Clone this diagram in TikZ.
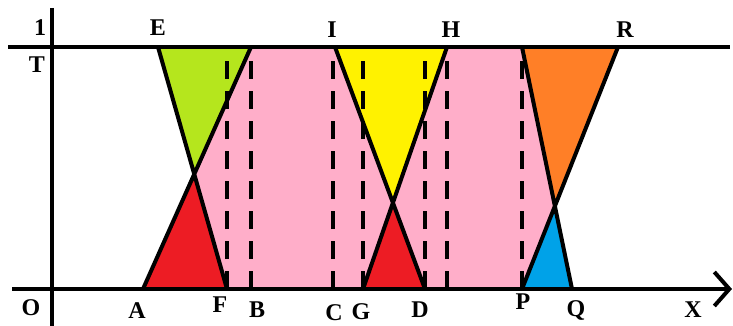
\documentclass[tikz,border=0pt]{standalone}
\usepackage{fontspec}
\setmainfont{Liberation Serif}
\usetikzlibrary{arrows.meta}
\definecolor{pinkfill}{HTML}{FFAEC9}
\definecolor{limefill}{HTML}{B5E61D}
\definecolor{redfill}{HTML}{ED1C24}
\definecolor{yellowfill}{HTML}{FFF200}
\definecolor{orangefill}{HTML}{FF7F27}
\definecolor{bluefill}{HTML}{00A2E8}
\begin{document}
\begin{tikzpicture}[x=0.5pt,y=-0.5pt,
    thickline/.style={line width=2pt},
    dashline/.style={line width=2pt,dash pattern=on 9pt off 6pt},
    lbl/.style={font=\fontsize{12}{14}\selectfont\bfseries,inner sep=0pt}]
    \useasboundingbox (0,0) rectangle (733,326);
    % points on the lines
    \coordinate (O) at (52,289);
    \coordinate (A) at (143,289);
    \coordinate (F) at (227,289);
    \coordinate (B) at (251,289);
    \coordinate (C) at (333,289);
    \coordinate (G) at (363,289);
    \coordinate (D) at (425,289);
    \coordinate (P) at (522,289);
    \coordinate (Q) at (572,289);
    \coordinate (E) at (158,47);
    \coordinate (Bt) at (251,47);
    \coordinate (I) at (335,47);
    \coordinate (H) at (447,47);
    \coordinate (Pt) at (522,47);
    \coordinate (R) at (618,47);
    \coordinate (X1) at (intersection of A--Bt and E--F);
    \coordinate (X2) at (intersection of I--D and G--H);
    \coordinate (X3) at (intersection of Pt--Q and P--R);
    % fills
    \fill[pinkfill] (Bt)--(X1)--(F)--(G)--(X2)--(I)--cycle;
    \fill[pinkfill] (H)--(Pt)--(X3)--(P)--(D)--(X2)--cycle;
    \fill[limefill] (E)--(Bt)--(X1)--cycle;
    \fill[redfill] (A)--(X1)--(F)--cycle;
    \fill[yellowfill] (I)--(H)--(X2)--cycle;
    \fill[redfill] (G)--(X2)--(D)--cycle;
    \fill[orangefill] (Pt)--(R)--(X3)--cycle;
    \fill[bluefill] (P)--(X3)--(Q)--cycle;
    % dashed verticals
    \foreach \p in {F,B,C,G,D,H,P}
        \draw[dashline] (\p |- O) -- (\p |- E);
    % axes
    \draw[thickline] (52,8) -- (52,326);
    \draw[thickline] (8,47) -- (730,47);
    \draw[thickline,-{Straight Barb[length=7.5pt,width=17pt]}] (12,289) -- (732,289);
    % slanted lines
    \draw[thickline] (A)--(Bt) (E)--(F);
    \draw[thickline] (I)--(D) (G)--(H);
    \draw[thickline] (Pt)--(Q) (P)--(R);
    % labels
    \node[lbl] (l1) at (40,28) {1};
    \node[lbl] (lT) at (37,65) {T};
    \node[lbl] (lO) at (31,308) {O};
    \node[lbl] (lE) at (158,28) {E};
    \node[lbl] (lI) at (332,30) {I};
    \node[lbl] (lH) at (451,30) {H};
    \node[lbl] (lR) at (625,30) {R};
    \node[lbl] (lA) at (137,311) {A};
    \node[lbl] (lF) at (220,305) {F};
    \node[lbl] (lB) at (257,310) {B};
    \node[lbl] (lC) at (334,313) {C};
    \node[lbl] (lG) at (361,312) {G};
    \node[lbl] (lD) at (420,310) {D};
    \node[lbl] (lP) at (523,302) {P};
    \node[lbl] (lQ) at (576,310) {Q};
    \node[lbl] (lX) at (693,310) {X};
\end{tikzpicture}
\end{document}
